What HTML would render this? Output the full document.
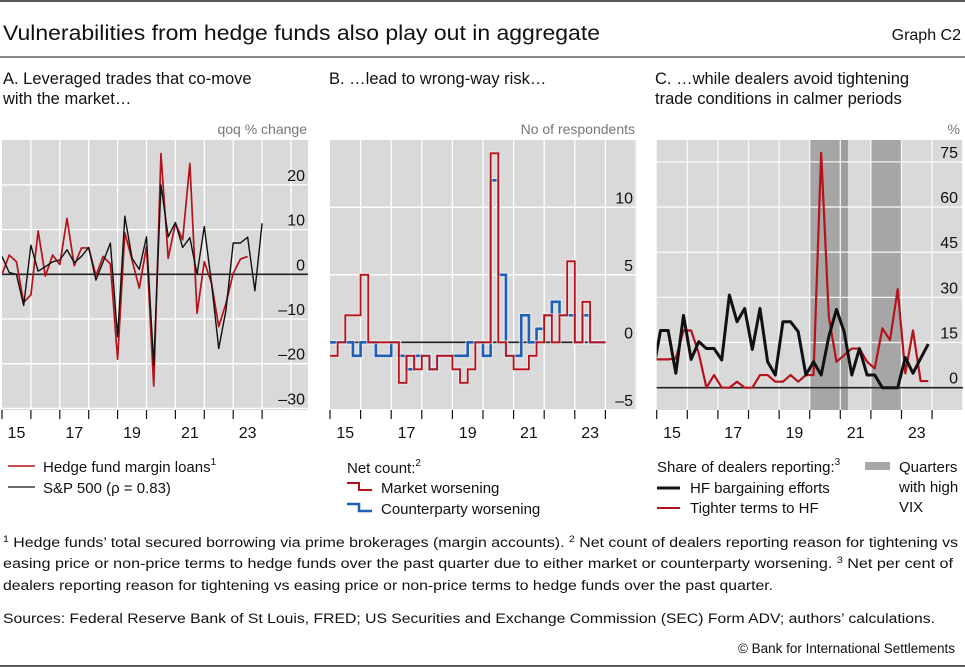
<!DOCTYPE html>
<html><head><meta charset="utf-8"><style>
html,body{margin:0;padding:0;background:#fff;}
svg{display:block;font-family:"Liberation Sans",sans-serif;}
</style></head><body>
<svg id="chart" width="965" height="667" viewBox="0 0 965 667" xmlns="http://www.w3.org/2000/svg">
<defs>
<clipPath id="clipA"><rect x="2" y="140" width="306" height="270"/></clipPath>
<clipPath id="clipB"><rect x="330" y="140" width="307" height="270"/></clipPath>
<clipPath id="clipC"><rect x="656.7" y="140" width="306.3" height="270"/></clipPath>
</defs>
<line x1="0" y1="1" x2="965" y2="1" stroke="#222" stroke-width="1.5"/>
<text x="3" y="40" font-size="21" fill="#111" textLength="597" lengthAdjust="spacingAndGlyphs">Vulnerabilities from hedge funds also play out in aggregate</text>
<text x="961" y="40" font-size="16" fill="#111" text-anchor="end">Graph C2</text>
<line x1="0" y1="57" x2="965" y2="57" stroke="#444" stroke-width="1.2"/>

<text x="3" y="84" font-size="16.5" fill="#111"><tspan x="3">A. Leveraged trades that co-move</tspan><tspan x="3" dy="20">with the market…</tspan></text>
<text x="329" y="84" font-size="16.5" fill="#111">B. …lead to wrong-way risk…</text>
<text x="655" y="84" font-size="16.5" fill="#111"><tspan x="655">C. …while dealers avoid tightening</tspan><tspan x="655" dy="20">trade conditions in calmer periods</tspan></text>

<text x="307" y="134" font-size="14" fill="#777" text-anchor="end">qoq % change</text>
<text x="635" y="134" font-size="14" fill="#777" text-anchor="end">No of respondents</text>
<text x="960" y="134" font-size="14" fill="#777" text-anchor="end">%</text>

<g id="panelA"></g>
<g id="panelB"></g>
<g id="panelC"></g>

<g>
<line x1="8" y1="466" x2="35" y2="466" stroke="#b5121b" stroke-width="1.5"/>
<text x="43" y="472" font-size="15" fill="#111">Hedge fund margin loans<tspan font-size="10" dy="-7">1</tspan></text>
<line x1="8" y1="487" x2="35" y2="487" stroke="#111" stroke-width="1.2"/>
<text x="43" y="493" font-size="15" fill="#111">S&amp;P 500 (ρ = 0.83)</text>
</g>
<g>
<text x="347" y="473" font-size="15" fill="#111">Net count:<tspan font-size="10" dy="-7">2</tspan></text>
<path d="M347 483 H359 V490 H372" fill="none" stroke="#b5121b" stroke-width="2"/>
<text x="381" y="493" font-size="15" fill="#111">Market worsening</text>
<path d="M347 504 H359 V511 H372" fill="none" stroke="#1f5fb4" stroke-width="2.5"/>
<text x="381" y="514" font-size="15" fill="#111">Counterparty worsening</text>
</g>
<g>
<text x="657" y="472" font-size="15" fill="#111">Share of dealers reporting:<tspan font-size="10" dy="-7">3</tspan></text>
<line x1="657" y1="488" x2="680" y2="488" stroke="#111" stroke-width="3"/>
<text x="690" y="493" font-size="15" fill="#111">HF bargaining efforts</text>
<line x1="657" y1="508" x2="680" y2="508" stroke="#b5121b" stroke-width="2"/>
<text x="690" y="513" font-size="15" fill="#111">Tighter terms to HF</text>
<rect x="865" y="462" width="25" height="8" fill="#a6a6a6"/>
<text x="899" y="472" font-size="15" fill="#111"><tspan x="899">Quarters</tspan><tspan x="899" dy="20">with high</tspan><tspan x="899" dy="20">VIX</tspan></text>
</g>

<g font-size="13.5" fill="#111">
<text x="3" y="547" textLength="955" lengthAdjust="spacingAndGlyphs"><tspan font-size="9" dy="-5">1</tspan><tspan dy="5">  Hedge funds’ total secured borrowing via prime brokerages (margin accounts).   </tspan><tspan font-size="9" dy="-5">2</tspan><tspan dy="5">  Net count of dealers reporting reason for tightening vs</tspan></text>
<text x="3" y="568" textLength="950" lengthAdjust="spacingAndGlyphs">easing price or non-price terms to hedge funds over the past quarter due to either market or counterparty worsening.   <tspan font-size="9" dy="-5">3</tspan><tspan dy="5">  Net per cent of</tspan></text>
<text x="3" y="590" textLength="770" lengthAdjust="spacingAndGlyphs">dealers reporting reason for tightening vs easing price or non-price terms to hedge funds over the past quarter.</text>
<text x="3" y="623" textLength="932" lengthAdjust="spacingAndGlyphs">Sources: Federal Reserve Bank of St Louis, FRED; US Securities and Exchange Commission (SEC) Form ADV; authors’ calculations.</text>
<text x="955" y="653" text-anchor="end">© Bank for International Settlements</text>
</g>
<line x1="0" y1="666" x2="965" y2="666" stroke="#222" stroke-width="1.5"/>
</svg>
<script>
// ---- Data ----
const yearLabels = ["15","17","19","21","23"];
const yearLabelOffsets = [0,2,4,6,8];
// Panel A (quarterly from 2015Q1)
const spReturns = [4,0.4,0,-7,6.5,0.7,1.7,2.8,3.2,5.5,2.6,4,6,-1.3,2.8,7,-14,13,3.6,1.1,8.4,-20.3,20,8.4,11.6,6,8.2,0,10.7,-2,-16.6,-8,7,7,8.3,-3.7,11.4];
const marginLoans = [0,4.3,2.8,-6.3,-4.6,9.7,-0.4,4.3,2.2,12.5,1.9,5.9,5.9,-0.3,4,2.3,-19,9.3,3.2,-3.1,6.2,-25,27,3.6,11.4,7.7,24.8,-8.7,2.8,-2,-11.7,-6.5,0.2,3.4,4];
const aTicks = [-30,-20,-10,0,10,20];
// Panel B (quarterly from 2015Q1, step)
const marketWorsening = [-1,0,2,2,5,0,0,0,0,-3,-1,-2,-1,-2,-1,-1,-2,-3,-2,0,0,14,0,-1,-2,-2,-1,0,2,0,2,6,0,3,0,0];
const counterpartyWorsening = [0,0,0,-1,0,0,-1,-1,0,-1,-2,-1,-1,-2,-1,-1,-1,-1,0,0,-1,12,5,-1,-1,2,0,1,2,3,2,2,0,2,0,0];
const bTicks = [-5,0,5,10];
// Panel C (quarterly; first value = 2014Q4)
const hfBargaining = [5,19,19,4.8,24,9.4,15.3,13,13,9.2,30.8,21.9,26.3,12.7,26.3,8.6,4.2,21.9,21.9,18.6,4.2,8.6,4.2,17,26,18.6,4.2,13,4.2,4.2,0,0,0,10,4.8,9.7,14.5];
const tighterTerms = [9.4,9.4,9.4,9.7,19,19,11.4,0,4.2,0,0,2,0,0,4.2,4.2,2,2,4.2,2,4.2,4.2,78,23.6,8.6,10.8,13,13,8.6,6.4,19.7,15.8,32.7,4.8,19,2.2,2.2];
const vixStartQ = [20,24,28];
const vixEndQ = [24,25,32];
const cTicks = [0,15,30,45,60,75];

const NS="http://www.w3.org/2000/svg";
function mk(parent,tag,attrs){const e=document.createElementNS(NS,tag);for(const k in attrs)e.setAttribute(k,attrs[k]);parent.appendChild(e);return e;}

function frame(g,x0,x1,yTop,yBot,yearStart,yearW,yScale,ticks){
  const bg=mk(g,'rect',{x:x0,y:yTop,width:x1-x0,height:yBot-yTop,fill:'#d9d9d9'});
  
  
  for(let k=1;k<=10;k++){const x=yearStart+k*yearW; if(x>=x1) break;
    const l=mk(g,'line',{x1:x,x2:x,y1:yTop,y2:yBot,stroke:'#fff','stroke-width':1.3});
    
    }
  ticks.forEach(v=>{const y=yScale(v);
    if(v!==0){const l=mk(g,'line',{x1:x0,x2:x1,y1:y,y2:y,stroke:'#fff','stroke-width':1.3});
      
      }
  });
}
function yLabels(g,ticks,yScale,labelX){
  ticks.forEach(v=>{const t=mk(g,'text',{x:labelX,y:yScale(v)-4,'font-size':16,fill:'#111','text-anchor':'end'});
    t.textContent=v<0?'\u2013'+Math.abs(v):String(v);
    
    });
}
function xAxis(g,yearStart,yearW,yBot){
  for(let k=0;k<=9;k++){const x=yearStart+k*yearW;
    const l=mk(g,'line',{x1:x,x2:x,y1:yBot,y2:yBot+9,stroke:'#111','stroke-width':1.2});
    
    }
  yearLabels.forEach((lab,i)=>{const t=mk(g,'text',{x:yearStart+(yearLabelOffsets[i]+0.5)*yearW,y:yBot+28,'font-size':16,fill:'#111','text-anchor':'middle'});
    t.textContent=lab;
    
    });
}
function zeroLine(g,x0,x1,y){const l=mk(g,'line',{x1:x0,x2:x1,y1:y,y2:y,stroke:'#222','stroke-width':1.6});
  
  }
function linePath(vals,xf,yf){return vals.map((v,i)=>(i?'L':'M')+xf(i).toFixed(2)+' '+yf(v).toFixed(2)).join(' ');}
function stepPath(vals,xf,yf){let d='';vals.forEach((v,i)=>{const y=yf(v).toFixed(2);d+=(i?'L':'M')+xf(i).toFixed(2)+' '+y+' L'+xf(i+1).toFixed(2)+' '+y+' ';});return d;}

// Panel A
(function(){
  const g=document.getElementById('panelA');
  const x0=2,x1=308,yTop=140,yBot=410,yW=28.9;
  const yS=v=>274.3-v*4.47; const xS=i=>x0+i*yW/4;
  frame(g,x0,x1,yTop,yBot,x0,yW,yS,aTicks);
  zeroLine(g,x0,x1,yS(0));
  const cg=mk(g,'g',{'clip-path':'url(#clipA)'});
  const r=mk(cg,'path',{d:linePath(marginLoans,xS,yS),fill:'none',stroke:'#b5121b','stroke-width':1.7,'stroke-linejoin':'round'});
  
  
  const b=mk(cg,'path',{d:linePath(spReturns,xS,yS),fill:'none',stroke:'#111','stroke-width':1.4,'stroke-linejoin':'round'});
  
  
  yLabels(g,aTicks,yS,305);
  xAxis(g,x0,yW,yBot);
})();
// Panel B
(function(){
  const g=document.getElementById('panelB');
  const x0=330,x1=637,yTop=140,yBot=410,yW=30.6;
  const yS=v=>342.3-v*13.5; const xS=i=>x0+i*yW/4;
  frame(g,x0,x1,yTop,yBot,x0,yW,yS,bTicks);
  const cg=mk(g,'g',{'clip-path':'url(#clipB)'});
  zeroLine(cg,x0,605.6,yS(0));
  const bh=mk(cg,'path',{d:stepPath(counterpartyWorsening,xS,yS),fill:'none',stroke:'#eef2f8','stroke-width':5,'stroke-opacity':0.6});
  
  
  const b=mk(cg,'path',{d:stepPath(counterpartyWorsening,xS,yS),fill:'none',stroke:'#1f5fb4','stroke-width':2.6});
  
  
  const rh=mk(cg,'path',{d:stepPath(marketWorsening,xS,yS),fill:'none',stroke:'#f4e8e8','stroke-width':4,'stroke-opacity':0.6});
  
  
  const r=mk(cg,'path',{d:stepPath(marketWorsening,xS,yS),fill:'none',stroke:'#b5121b','stroke-width':1.8});
  
  
  yLabels(g,bTicks,yS,633);
  xAxis(g,x0,yW,yBot);
})();
// Panel C
(function(){
  const g=document.getElementById('panelC');
  const x0=656.7,x1=963,yTop=140,yBot=410,yW=30.6;
  const yS=v=>387.7-v*3.011; const xS=i=>x0+(i-0.5)*yW/4;
  const bg=mk(g,'rect',{x:x0,y:yTop,width:x1-x0,height:yBot-yTop,fill:'#d9d9d9'});
  
  
  const qx=q=>x0+q*yW/4;
  vixStartQ.forEach((s,i)=>{const rc=mk(g,'rect',{x:qx(s),y:yTop,width:qx(vixEndQ[i])-qx(s),height:yBot-yTop,fill:i===1?'#9d9d9d':'#a6a6a6'});
    
    });
  for(let k=1;k<=10;k++){const x=x0+k*yW; if(x>=x1) break;
    const l=mk(g,'line',{x1:x,x2:x,y1:yTop,y2:yBot,stroke:'#fff','stroke-width':1.3,'stroke-opacity':0.85});
    
    }
  cTicks.forEach(v=>{if(v===0)return;const y=yS(v);
    const l=mk(g,'line',{x1:x0,x2:x1,y1:y,y2:y,stroke:'#fff','stroke-width':1.3,'stroke-opacity':0.85});
    
    });
  zeroLine(g,x0,x1,yS(0));
  const cg=mk(g,'g',{'clip-path':'url(#clipC)'});
  const r=mk(cg,'path',{d:linePath(tighterTerms,xS,yS),fill:'none',stroke:'#b5121b','stroke-width':2.2,'stroke-linejoin':'round'});
  
  
  const b=mk(cg,'path',{d:linePath(hfBargaining,xS,yS),fill:'none',stroke:'#111','stroke-width':3,'stroke-linejoin':'round'});
  
  
  yLabels(g,cTicks,yS,958);
  xAxis(g,x0,yW,yBot);
})();
</script>
</body></html>
